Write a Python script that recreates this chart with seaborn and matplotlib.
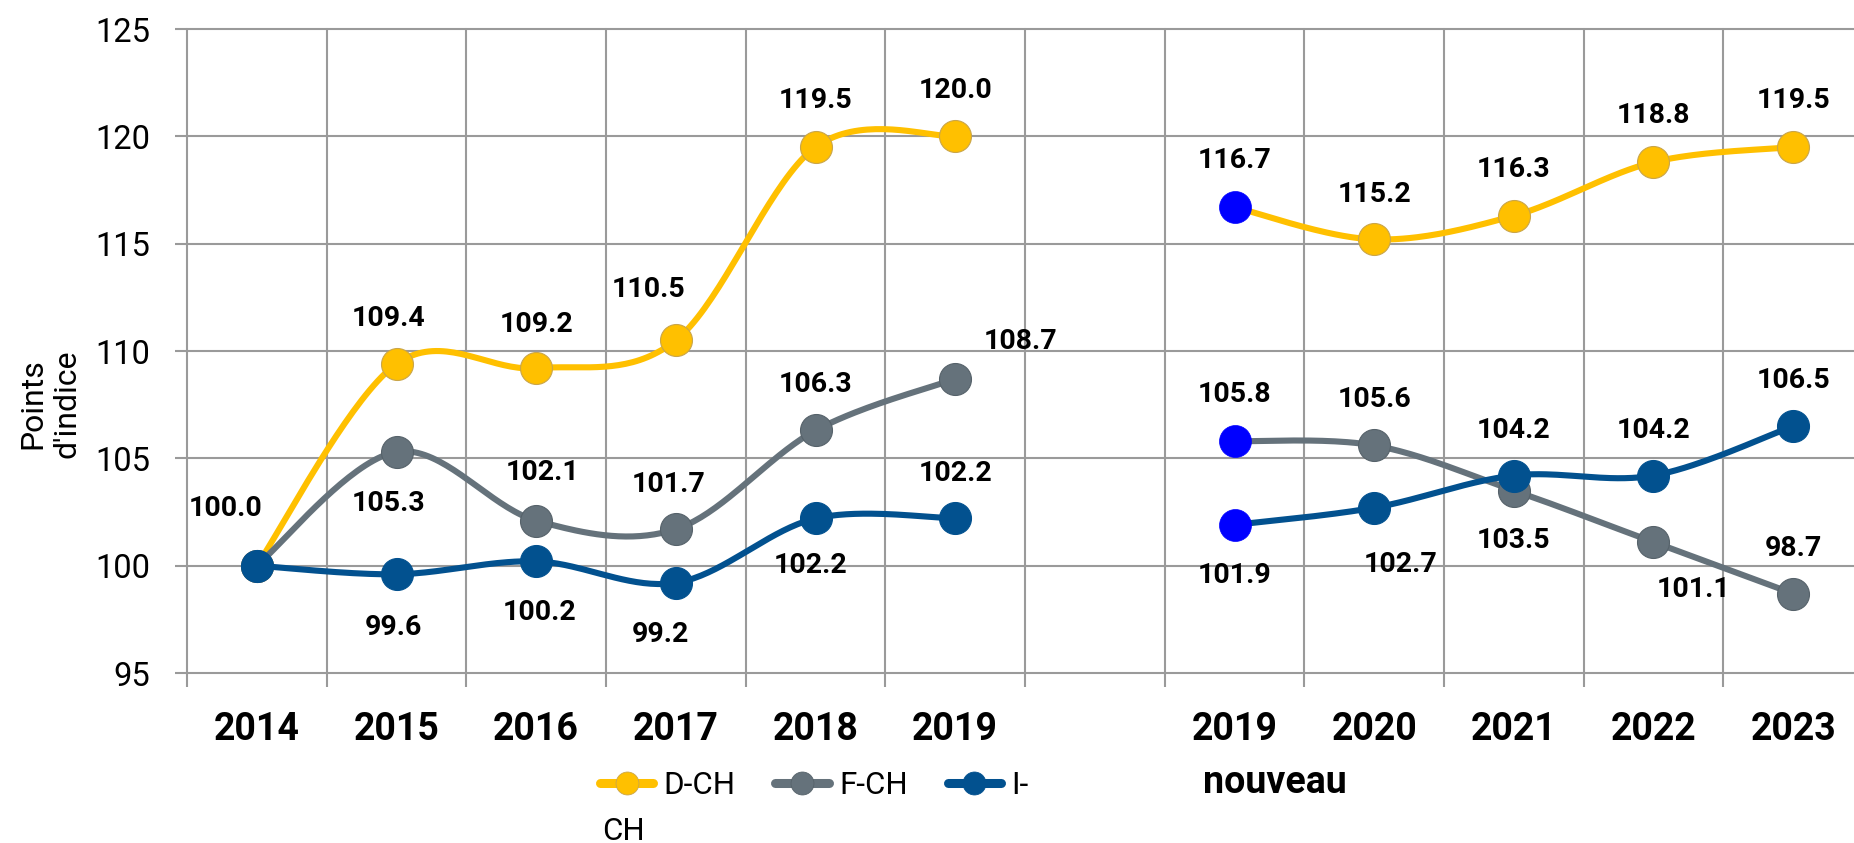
import numpy as np
import pandas as pd
import matplotlib
matplotlib.use("Agg")
import matplotlib.pyplot as plt
from matplotlib.lines import Line2D
import seaborn as sns

# ---------------- data ----------------
years_old = ["2014", "2015", "2016", "2017", "2018", "2019"]
years_new = ["2019", "2020", "2021", "2022", "2023"]
tick_labels = years_old + [""] + years_new

d_ch_old = [100.0, 109.4, 109.2, 110.5, 119.5, 120.0]
d_ch_new = [116.7, 115.2, 116.3, 118.8, 119.5]
f_ch_old = [100.0, 105.3, 102.1, 101.7, 106.3, 108.7]
f_ch_new = [105.8, 105.6, 103.5, 101.1, 98.7]
i_ch_old = [100.0, 99.6, 100.2, 99.2, 102.2, 102.2]
i_ch_new = [101.9, 102.7, 104.2, 104.2, 106.5]

series_names = ["D-CH", "F-CH", "I-CH"]
legend_labels = ["D-CH", "F-CH", "I-"]

# ---------------- style ----------------
colors = {"D-CH": "#FFC000", "F-CH": "#65727B", "I-CH": "#02518F"}
edge_colors = {"D-CH": "#C9A54A", "F-CH": "#56626A", "I-CH": "#02518F"}
new_first_color = "#0000FF"
grid_c = "#9A9A9A"

# label offsets (pixels, y downward) for old and new segments; None = no label
off_old = {
    "D-CH": [(-31, -60), (-8, -48), (0, -46), (-27, -53), (0, -49), (0, -48)],
    "F-CH": [None, (-8, 49), (6, -51), (-7, -47), (0, -48), (65, -40)],
    "I-CH": [None, (-3, 51), (3, 49), (-15, 49), (-5, 45), (0, -47)],
}
off_new = {
    "D-CH": [(0, -49), (0, -47), (0, -49), (0, -49), (0, -49)],
    "F-CH": [(0, -49), (0, -48), (0, 47), (40, 45), (0, -48)],
    "I-CH": [(0, 48), (26, 54), (0, -48), (0, -48), (0, -48)],
}

sns.set_theme(style="white")
plt.rcParams["font.family"] = ["Roboto", "DejaVu Sans"]
plt.rcParams["text.color"] = "black"
plt.rcParams["axes.labelcolor"] = "black"

W, H = 1854, 843
fig = plt.figure(figsize=(W / 100, H / 100), dpi=100)
ax = fig.add_axes([187 / W, 170 / H, 1676 / W, 644 / H])

x_old = np.arange(len(years_old))
x_new = np.arange(len(years_old) + 1, len(tick_labels))

data = {
    "D-CH": (d_ch_old, d_ch_new),
    "F-CH": (f_ch_old, f_ch_new),
    "I-CH": (i_ch_old, i_ch_new),
}


def smooth(xs, ys, n=40):
    pts = np.column_stack([xs, ys]).astype(float)
    P = np.vstack([pts[0], pts, pts[-1]])
    out = []
    t = np.linspace(0, 1, n)[:, None]
    for i in range(1, len(P) - 2):
        p0, p1, p2, p3 = P[i - 1], P[i], P[i + 1], P[i + 2]
        c1 = p1 + (p2 - p0) / 6.0
        c2 = p2 - (p3 - p1) / 6.0
        seg = (1 - t) ** 3 * p1 + 3 * (1 - t) ** 2 * t * c1 + 3 * (1 - t) * t ** 2 * c2 + t ** 3 * p2
        out.append(seg)
    return np.vstack(out)


z = 2
for name in series_names:
    old, new = data[name]
    for xs, ys in ((x_old, old), (x_new, new)):
        sm = smooth(xs, ys)
        df = pd.DataFrame({"x": sm[:, 0], "y": sm[:, 1]})
        sns.lineplot(data=df, x="x", y="y", sort=False, estimator=None,
                     color=colors[name], linewidth=4.4, ax=ax, zorder=z)
    sns.scatterplot(x=list(x_old) + list(x_new[1:]), y=list(old) + list(new[1:]),
                    color=colors[name], edgecolor=edge_colors[name], linewidth=0.8,
                    s=530, ax=ax, zorder=z + 1, legend=False)
    sns.scatterplot(x=[x_new[0]], y=[new[0]], color=new_first_color,
                    edgecolor=new_first_color, linewidth=0.5, s=530, ax=ax,
                    zorder=z + 1, legend=False)
    z += 2

# data labels
lab_kw = dict(ha="center", va="baseline", fontfamily="Roboto",
              fontweight="bold", fontsize=20.5, color="black", zorder=20,
              textcoords="offset pixels")
for name in series_names:
    old, new = data[name]
    for xs, ys, offs in ((x_old, old, off_old[name]), (x_new, new, off_new[name])):
        for xv, yv, off in zip(xs, ys, offs):
            if off is None:
                continue
            dx, dy = off
            ax.annotate(f"{yv:.1f}", (xv, yv), xytext=(dx, -(dy + 10)), **lab_kw)

# axes
ax.set_xlim(-0.5, len(tick_labels) - 0.5)
ax.set_ylim(95, 125)
for s in ax.spines.values():
    s.set_visible(False)

ax.set_xticks(np.arange(len(tick_labels)))
ax.set_xticklabels(tick_labels, fontfamily="Roboto", fontweight="bold", fontsize=27)
ax.set_xticks(np.arange(-0.5, len(tick_labels), 1.0), minor=True)
ax.tick_params(axis="x", which="major", length=0, pad=27, bottom=True,
               labelcolor="black")
ax.tick_params(axis="x", which="minor", length=10, width=1.5, color=grid_c, bottom=True)

ax.set_yticks([95, 100, 105, 110, 115, 120, 125])
ax.tick_params(axis="y", which="major", length=8.6, width=1.5, color=grid_c,
               pad=18, labelsize=23.5, left=True, labelcolor="black")
for lab in ax.get_yticklabels():
    lab.set_fontfamily("Roboto")

ax.grid(False)
ax.grid(True, which="minor", axis="x", color=grid_c, linewidth=1.5)
ax.grid(True, which="major", axis="y", color=grid_c, linewidth=1.5)
for gl in ax.yaxis.get_gridlines():
    gl.set_clip_on(False)
for tk in ax.xaxis.get_minor_ticks():
    tk.gridline.set_clip_on(False)
ax.set_axisbelow(True)
ax.set_xlabel("")
ax.set_ylabel("")

# y label
fig.text(50 / W, 1 - 404 / H, "Points\nd'indice", rotation=90, ha="center",
         va="center", multialignment="center", fontsize=23, fontfamily="Roboto",
         linespacing=1.25, color="black")

# "nouveau" under the second 2019
fig.text(1203 / W, 1 - 793 / H, "nouveau", ha="left", va="baseline",
         fontsize=27, fontweight="bold", fontfamily="Roboto", color="black")

# legend
handles = [Line2D([0], [0], color=colors[n], linewidth=6.5, marker="o",
                  markersize=16.5, markerfacecolor=colors[n],
                  markeredgecolor=edge_colors[n], markeredgewidth=0.6)
           for n in series_names]
leg = fig.legend(handles, legend_labels, loc="center left",
                 bbox_to_anchor=(600 / W, 1 - 785 / H), ncol=3, frameon=False,
                 handlelength=1.7, handletextpad=0.33,
                 columnspacing=1.28, borderpad=0, borderaxespad=0,
                 prop={"family": "Roboto", "size": 22.5})
for t in leg.get_texts():
    t.set_color("black")
fig.text(602 / W, 1 - 840 / H, "CH", ha="left", va="baseline",
         fontsize=22.5, fontfamily="Roboto", color="black")

fig.savefig("out.png", dpi=100)
